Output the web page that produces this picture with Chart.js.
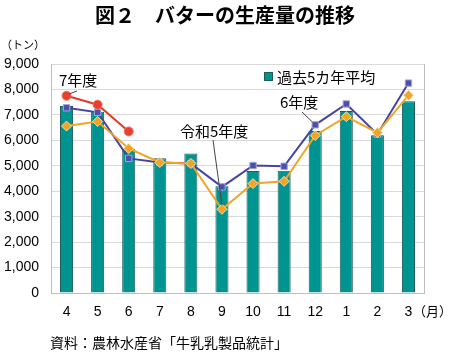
<!DOCTYPE html>
<html><head><meta charset="utf-8">
<script src="https://cdn.jsdelivr.net/npm/chart.js@4/dist/chart.umd.min.js"></script>
<style>html,body{margin:0;padding:0;background:#fff}#wrap{width:450px;height:356px;position:relative}</style>
</head><body><div id="wrap"><canvas id="c" width="450" height="356"></canvas></div>
<script>
const months = ['4','5','6','7','8','9','10','11','12','1','2','3'];
const avg5 = [7350,7120,5650,5300,5480,4200,4790,4800,6370,7150,6200,7540];
const r6 = [7280,7100,5290,5130,5090,4170,5010,4980,6610,7430,6240,8250];
const r5 = [6560,6740,5680,5130,5090,3290,4300,4390,6190,6930,6300,7770];
const r7 = [7750,7400,6350,null,null,null,null,null,null,null,null,null];
const yTicks = [0,1000,2000,3000,4000,5000,6000,7000,8000,9000];

const JP = '"Noto Sans CJK JP", sans-serif';
const NUM = '"Liberation Sans", Arial, sans-serif';

const overlay = {
  id:'overlay',
  afterDatasetsDraw(chart){
    const ctx = chart.ctx, x = chart.scales.x, y = chart.scales.y;
    ctx.save();
    ctx.fillStyle='#000'; ctx.textAlign='center'; ctx.textBaseline='middle';
    ctx.font='bold 20px '+JP;
    ctx.fillText('図２　バターの生産量の推移',225,15);
    ctx.font='11px '+JP; ctx.textAlign='left';
    ctx.fillText('（トン）',1,45);
    ctx.font='14px '+JP;
    ctx.fillText('資料：農林水産省「牛乳乳製品統計」',50,343);
    ctx.font='13px '+JP; ctx.textAlign='right';
    ctx.fillText('（月）',452,311);
    ctx.textAlign='left';
    // legend
    ctx.fillStyle='#fff'; ctx.fillRect(262,67,122,19);
    ctx.fillStyle='#009490'; ctx.strokeStyle='#1f5a58'; ctx.lineWidth=1;
    ctx.fillRect(264.5,72.5,8,8); ctx.strokeRect(264.5,72.5,8,8);
    ctx.fillStyle='#000'; ctx.font='15px '+JP; ctx.textBaseline='middle';
    ctx.fillText('過去5カ年平均',277,77);
    // annotations
    ctx.strokeStyle='#444'; ctx.lineWidth=1;
    const p7 = [x.getPixelForValue(0), y.getPixelForValue(r7[0])];
    const p5 = [x.getPixelForValue(5), y.getPixelForValue(r5[5])];
    const p6 = [x.getPixelForValue(8), y.getPixelForValue(r6[8])];
    ctx.beginPath();
    ctx.moveTo(77,91); ctx.lineTo(p7[0]+3,p7[1]-2);
    ctx.moveTo(213,140); ctx.lineTo(p5[0],p5[1]-4);
    ctx.moveTo(302,112); ctx.lineTo(p6[0]-3,p6[1]-3);
    ctx.stroke();
    ctx.font='15px '+JP; ctx.textAlign='left';
    ctx.fillText('7年度',59,80);
    ctx.fillText('令和5年度',180,131);
    ctx.fillText('6年度',280,102);
    ctx.restore();
  }
};

new Chart(document.getElementById('c'),{
  data:{labels:months,datasets:[
    {type:'bar',label:'過去5カ年平均',data:avg5,backgroundColor:'#009490',borderColor:'#1f5a58',borderWidth:1,barPercentage:0.42,categoryPercentage:1,order:10},
    {type:'line',label:'6年度',data:r6,borderColor:'#4545a0',backgroundColor:'#4d4dab',pointStyle:'rect',pointRadius:4.5,pointBorderColor:'#9fa8d8',pointBorderWidth:1,borderWidth:2,tension:0,order:3},
    {type:'line',label:'令和5年度',data:r5,borderColor:'#f0a428',backgroundColor:'#f0a428',pointStyle:'rectRot',pointRadius:5,pointBorderColor:'#f8dca0',pointBorderWidth:1,borderWidth:2,tension:0,order:2},
    {type:'line',label:'7年度',data:r7,borderColor:'#e03c28',backgroundColor:'#e8402c',pointStyle:'circle',pointRadius:4.5,pointBorderColor:'#f07060',pointBorderWidth:1,borderWidth:2,tension:0,spanGaps:false,order:1}
  ]},
  options:{
    responsive:false,animation:false,devicePixelRatio:1,
    layout:{padding:{left:0,right:26,top:64,bottom:0}},
    plugins:{legend:{display:false},title:{display:false},tooltip:{enabled:false}},
    scales:{
      x:{grid:{display:false,drawTicks:false},border:{color:'#bfbfbf'},
         ticks:{color:'#000',font:{family:NUM,size:14},padding:11,maxRotation:0},
         afterFit(s){s.height=63;}},
      y:{min:0,max:9000,afterBuildTicks(s){s.ticks=yTicks.map(v=>({value:v}));},
         grid:{color:'#d9d9d9',drawTicks:false},border:{color:'#bfbfbf'},
         ticks:{color:'#000',font:{family:NUM,size:14},padding:12,callback:v=>v.toLocaleString('en-US')},
         afterFit(s){s.width=51;}}
    }
  },
  plugins:[overlay,{id:'rb',afterDraw(chart){const a=chart.chartArea,c=chart.ctx;c.save();c.strokeStyle='#bfbfbf';c.lineWidth=1;c.beginPath();c.moveTo(a.right+0.5,a.top);c.lineTo(a.right+0.5,a.bottom);c.stroke();c.restore();}}]
});
</script></body></html>
